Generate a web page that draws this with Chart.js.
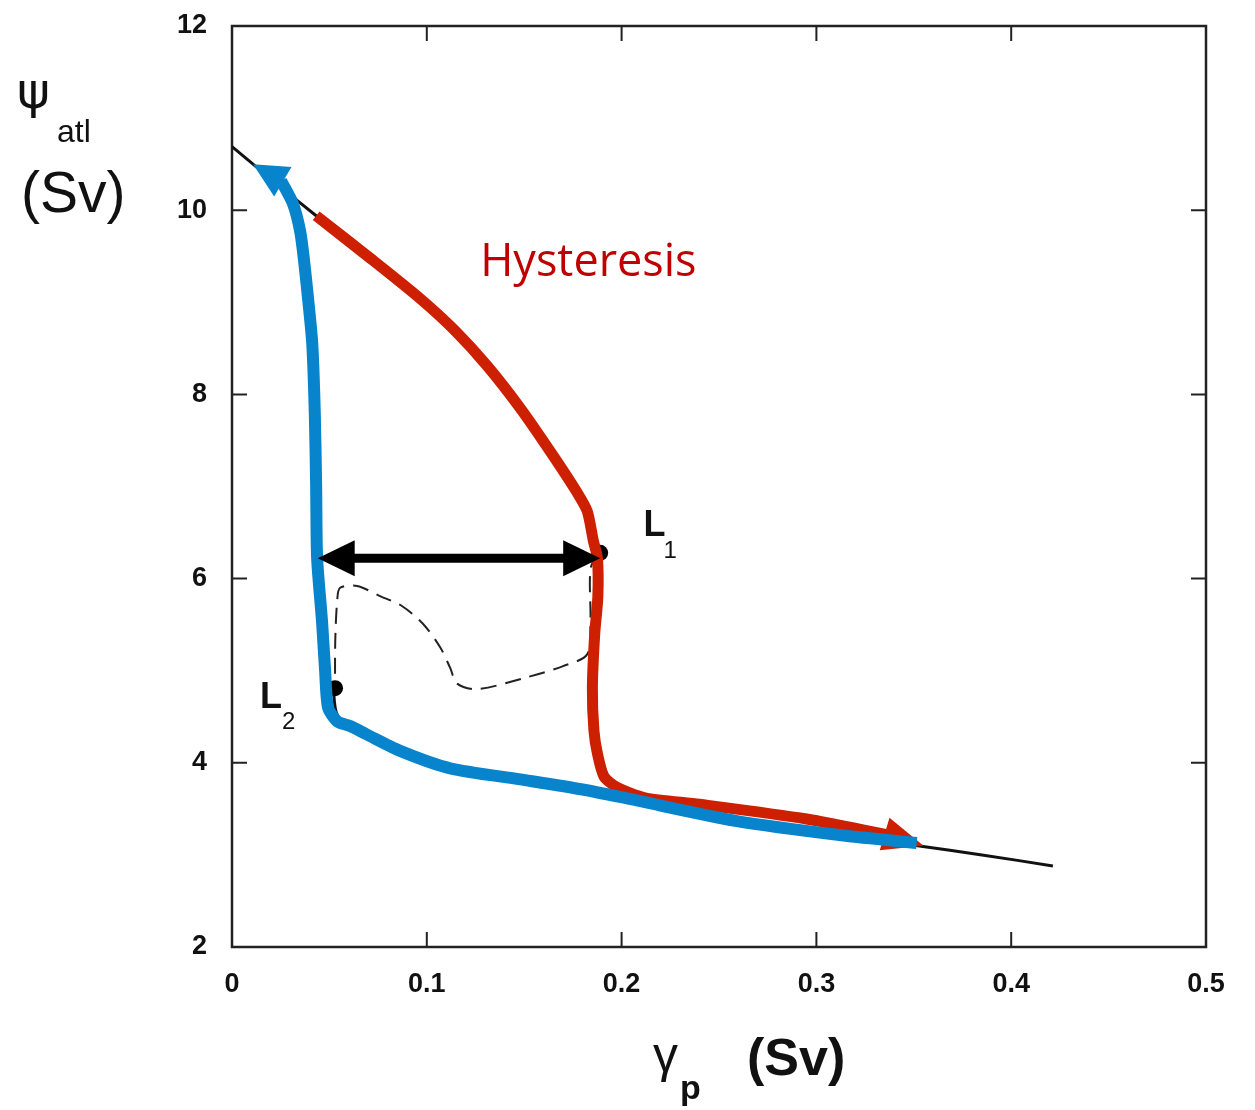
<!DOCTYPE html>
<html>
<head>
<meta charset="utf-8">
<script src="https://cdn.jsdelivr.net/npm/chart.js@4.4.1/dist/chart.umd.min.js"></script>
<style>
  html, body { margin: 0; padding: 0; background: #fff; }
  #wrap { width: 1255px; height: 1110px; }
</style>
</head>
<body>
<div id="wrap"><canvas id="hyst" width="1255" height="1110"></canvas></div>
<script>
// axis ticks
const xTicks = [0, 0.1, 0.2, 0.3, 0.4, 0.5];
const xTickLabels = ['0', '0.1', '0.2', '0.3', '0.4', '0.5'];
const yTicks = [2, 4, 6, 8, 10, 12];
const yTickLabels = ['2', '4', '6', '8', '10', '12'];

// stable branches (thin black)
const upperX = [0, 0.0108, 0.0262, 0.0432, 0.0709];
const upperY = [10.69, 10.50, 10.23, 9.94, 9.48];
const lowerX = [0.052, 0.0535, 0.058, 0.09, 0.148, 0.2035, 0.2585, 0.314, 0.352, 0.385, 0.4214];
const lowerY = [4.80, 4.55, 4.42, 4.10, 3.80, 3.61, 3.37, 3.21, 3.10, 3.00, 2.88];

// unstable branch (dashed), L1 -> L2
const unstX = [0.1876, 0.184, 0.184, 0.1824, 0.170, 0.1516, 0.1259, 0.1156, 0.112, 0.107, 0.098, 0.0874, 0.076, 0.0642, 0.0555, 0.054, 0.053, 0.0529];
const unstY = [6.28, 6.10, 5.54, 5.18, 5.05, 4.93, 4.80, 4.86, 5.03, 5.25, 5.51, 5.70, 5.81, 5.92, 5.90, 5.76, 5.32, 4.81];

// red path (increasing gamma)
const redX = [0.0432, 0.0709, 0.0966, 0.1146, 0.131, 0.148, 0.165, 0.1773, 0.1824, 0.1855, 0.1876, 0.1878, 0.1862, 0.185, 0.1858, 0.1876, 0.191, 0.198, 0.212, 0.240, 0.295, 0.336];
const redY = [9.94, 9.48, 9.04, 8.69, 8.31, 7.85, 7.33, 6.93, 6.73, 6.41, 6.22, 5.80, 5.40, 4.81, 4.35, 4.10, 3.85, 3.73, 3.62, 3.55, 3.39, 3.22];
const redTip = [0.355, 3.10];

// blue path (decreasing gamma)
const blueX = [0.3515, 0.314, 0.2585, 0.2035, 0.180, 0.148, 0.112, 0.0863, 0.069, 0.0606, 0.054, 0.0493, 0.0478, 0.0462, 0.0437, 0.0432, 0.0425, 0.0412, 0.039, 0.037, 0.035, 0.0313, 0.0252];
const blueY = [3.13, 3.21, 3.37, 3.61, 3.71, 3.82, 3.94, 4.13, 4.31, 4.40, 4.45, 4.60, 5.00, 5.54, 6.22, 7.00, 7.80, 8.55, 9.05, 9.45, 9.77, 10.07, 10.32];
const blueTip = [0.0108, 10.50];

// hysteresis width arrow and limit points
const spanX = [0.044, 0.189];
const spanY = [6.22, 6.22];
const limitX = [0.1890, 0.0529];
const limitY = [6.28, 4.81];

const pts = (xs, ys) => xs.map((x, i) => ({ x: x, y: ys[i] }));

const notes = [
  { text: 'Hysteresis', x: 0.1274, y: 9.286, font: '45px "Open Sans"', color: '#C00000' },
  { text: 'L', x: 0.2112, y: 6.463, font: 'bold 36px "Liberation Sans"', color: '#111' },
  { text: '1', x: 0.2215, y: 6.224, font: '24px "Liberation Sans"', color: '#111' },
  { text: 'L', x: 0.0144, y: 4.595, font: 'bold 36px "Liberation Sans"', color: '#111' },
  { text: '2', x: 0.0257, y: 4.367, font: '24px "Liberation Sans"', color: '#111' }
];

function arrowHead(ctx, bx, by, tx, ty, hw, color) {
  const dx = tx - bx, dy = ty - by;
  const len = Math.hypot(dx, dy);
  const nx = -dy / len, ny = dx / len;
  const ux = dx / len, uy = dy / len;
  ctx.beginPath();
  ctx.moveTo(tx, ty);
  ctx.lineTo(bx - ux * 2 + nx * hw, by - uy * 2 + ny * hw);
  ctx.lineTo(bx - ux * 2 - nx * hw, by - uy * 2 - ny * hw);
  ctx.closePath();
  ctx.fillStyle = color;
  ctx.fill();
}

const framePlugin = {
  id: 'frame',
  beforeDatasetsDraw(chart) {
    const { ctx, chartArea: a, scales } = chart;
    ctx.save();
    ctx.strokeStyle = '#222';
    ctx.lineWidth = 2;
    xTicks.forEach(v => {
      const px = scales.x.getPixelForValue(v);
      ctx.beginPath();
      ctx.moveTo(px, a.bottom); ctx.lineTo(px, a.bottom - 15);
      ctx.moveTo(px, a.top); ctx.lineTo(px, a.top + 15);
      ctx.stroke();
    });
    yTicks.forEach(v => {
      const py = scales.y.getPixelForValue(v);
      ctx.beginPath();
      ctx.moveTo(a.left, py); ctx.lineTo(a.left + 15, py);
      ctx.moveTo(a.right, py); ctx.lineTo(a.right - 15, py);
      ctx.stroke();
    });
    ctx.lineWidth = 2.5;
    ctx.strokeRect(a.left, a.top, a.right - a.left, a.bottom - a.top);
    ctx.restore();
  },
  afterDatasetDraw(chart, args) {
    const ds = chart.data.datasets[args.index];
    if (!ds.tip) return;
    const { x, y } = chart.scales;
    const last = ds.data[ds.data.length - 1];
    const ctx = chart.ctx;
    ctx.save();
    arrowHead(ctx, x.getPixelForValue(last.x), y.getPixelForValue(last.y),
      x.getPixelForValue(ds.tip[0]), y.getPixelForValue(ds.tip[1]), 17, ds.borderColor);
    ctx.restore();
  },
  afterDraw(chart) {
    const { ctx, scales } = chart;
    const sx = scales.x, sy = scales.y;
    ctx.save();
    // double arrow for hysteresis width
    const x0 = sx.getPixelForValue(spanX[0]), x1 = sx.getPixelForValue(spanX[1]);
    const y0 = sy.getPixelForValue(spanY[0]), y1 = sy.getPixelForValue(spanY[1]);
    ctx.strokeStyle = '#000';
    ctx.lineWidth = 9;
    ctx.beginPath();
    ctx.moveTo(x0 + 30, y0); ctx.lineTo(x1 - 30, y1);
    ctx.stroke();
    arrowHead(ctx, x0 + 35, y0, x0, y0, 18, '#000');
    arrowHead(ctx, x1 - 35, y1, x1, y1, 18, '#000');

    ctx.textBaseline = 'alphabetic';
    ctx.textAlign = 'left';
    notes.forEach(n => {
      ctx.font = n.font;
      ctx.fillStyle = n.color;
      ctx.fillText(n.text, sx.getPixelForValue(n.x), sy.getPixelForValue(n.y));
    });

    // axis titles
    ctx.fillStyle = '#111';
    ctx.font = '50px "DejaVu Sans"';
    ctx.fillText('\u03C8', 17, 108);
    ctx.font = '32px "Liberation Sans"';
    ctx.fillText('atl', 57, 142);
    ctx.font = '57px "Liberation Sans"';
    ctx.fillText('(Sv)', 21, 212);

    ctx.font = '50px "Liberation Sans"';
    ctx.fillText('\u03B3', 653, 1072);
    ctx.font = 'bold 34px "Liberation Sans"';
    ctx.fillText('p', 680, 1099);
    ctx.font = 'bold 52px "Liberation Sans"';
    ctx.fillText('(Sv)', 747, 1075);
    ctx.restore();
  }
};

const tickFont = { family: '"Liberation Sans", Arial, sans-serif', size: 27, weight: 'bold' };

new Chart(document.getElementById('hyst'), {
  type: 'scatter',
  data: {
    datasets: [
      { label: 'decreasing', data: pts(blueX, blueY), showLine: true, borderColor: '#0784CB', borderWidth: 12, tension: 0.25, order: 1, tip: blueTip },
      { label: 'increasing', data: pts(redX, redY), showLine: true, borderColor: '#CC2000', borderWidth: 11, tension: 0.25, order: 2, tip: redTip },
      { label: 'limit points', data: pts(limitX, limitY), showLine: false, pointRadius: [8, 8], backgroundColor: '#000', borderWidth: 0, order: 3 },
      { label: 'unstable', data: pts(unstX, unstY), showLine: true, borderColor: '#222', borderWidth: 2, borderDash: [16, 9], tension: 0.3, order: 4 },
      { label: 'lower stable', data: pts(lowerX, lowerY), showLine: true, borderColor: '#111', borderWidth: 3, tension: 0.3, order: 5 },
      { label: 'upper stable', data: pts(upperX, upperY), showLine: true, borderColor: '#111', borderWidth: 3, tension: 0.3, order: 6 }
    ]
  },
  options: {
    responsive: false,
    animation: false,
    layout: { padding: { top: 26, right: 49, left: 0, bottom: 0 } },
    elements: { point: { radius: 0 } },
    plugins: { legend: { display: false }, tooltip: { enabled: false } },
    scales: {
      x: {
        type: 'linear', min: 0, max: 0.5,
        grid: { display: false }, border: { display: false },
        afterBuildTicks: s => { s.ticks = xTicks.map(v => ({ value: v })); },
        afterFit: s => { s.height = 163; },
        ticks: { padding: 13, color: '#111', font: tickFont, autoSkip: false, maxRotation: 0,
          callback: (v, i) => xTickLabels[i] }
      },
      y: {
        type: 'linear', min: 2, max: 12,
        grid: { display: false }, border: { display: false },
        afterBuildTicks: s => { s.ticks = yTicks.map(v => ({ value: v })); },
        afterFit: s => { s.width = 232; s.paddingTop = 0; s.paddingBottom = 0; },
        ticks: { padding: 17, color: '#111', font: tickFont, autoSkip: false,
          callback: (v, i) => yTickLabels[i] }
      }
    }
  },
  plugins: [framePlugin]
});
</script>
</body>
</html>
